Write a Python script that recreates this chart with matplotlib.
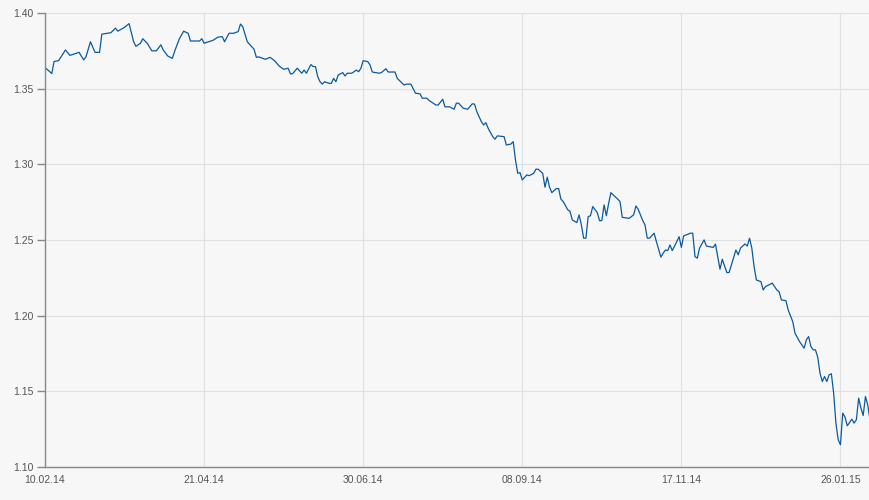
import matplotlib
matplotlib.use("Agg")
import matplotlib.pyplot as plt
import matplotlib.dates as mdates
import numpy as np
import pandas as pd

# EUR/USD style daily series
start = pd.Timestamp("2014-02-10")
days = [0, 3, 4, 6, 9, 11, 15, 17, 18, 20, 22, 24, 25, 29, 31, 32, 35, 37, 39, 40,
        42, 43, 45, 47, 49, 51, 52, 54, 56, 57, 59, 61, 63, 64, 68, 69, 70, 74, 76, 78,
        79, 81, 83, 85, 86, 87, 89, 92, 93, 94, 97, 99, 101, 103, 105, 107, 108, 109, 111, 113,
        114, 115, 117, 118, 119, 120, 121, 122, 123, 125, 126, 127, 128, 129, 131, 132, 133, 135, 137, 138,
        139, 140, 142, 143, 144, 147, 148, 150, 151, 154, 155, 158, 159, 161, 163, 165, 166, 168, 169, 172,
        173, 175, 176, 178, 180, 181, 182, 184, 186, 188, 189, 190, 192, 193, 194, 195, 197, 198, 199, 202,
        203, 205, 206, 207, 208, 209, 210, 212, 213, 215, 216, 217, 219, 220, 221, 222, 223, 225, 226, 227,
        228, 230, 231, 232, 234, 235, 236, 237, 238, 239, 240, 241, 243, 244, 245, 246, 247, 248, 249, 250,
        252, 253, 254, 257, 259, 260, 261, 263, 264, 265, 266, 268, 269, 271, 272, 273, 274, 275, 276, 278,
        279, 280, 281, 284, 285, 286, 287, 288, 290, 291, 294, 295, 296, 297, 298, 300, 301, 304, 305, 306,
        308, 309, 310, 311, 312, 313, 315, 316, 317, 320, 322, 323, 324, 326, 327, 329, 330, 332, 334, 335,
        336, 337, 338, 339, 340, 341, 342, 343, 344, 345, 346, 347, 348, 349, 350, 351, 352, 353, 355, 356,
        357, 358, 359, 360, 361, 362, 363]
rate = [1.364, 1.360, 1.368, 1.3685, 1.3756, 1.372, 1.374, 1.369, 1.3709, 1.381, 1.374, 1.374, 1.386, 1.387, 1.390, 1.388, 1.3905, 1.393, 1.381, 1.378,
        1.380, 1.383, 1.380, 1.375, 1.375, 1.379, 1.3756, 1.3716, 1.370, 1.3745, 1.3826, 1.388, 1.3866, 1.3815, 1.3815, 1.383, 1.380, 1.382, 1.384, 1.3844,
        1.381, 1.3866, 1.3866, 1.3877, 1.3927, 1.391, 1.381, 1.376, 1.3707, 1.371, 1.3694, 1.3707, 1.3685, 1.365, 1.3628, 1.3635, 1.3597, 1.360, 1.3635, 1.3602,
        1.3623, 1.3602, 1.3659, 1.3646, 1.3646, 1.358, 1.3546, 1.353, 1.3546, 1.3535, 1.3535, 1.3568, 1.3546, 1.359, 1.3606, 1.3584, 1.3602, 1.3602, 1.3623, 1.3612,
        1.3635, 1.3685, 1.3679, 1.3657, 1.361, 1.3602, 1.3606, 1.3632, 1.361, 1.361, 1.3568, 1.3524, 1.353, 1.353, 1.347, 1.3466, 1.3437, 1.3437, 1.3422, 1.3392,
        1.3392, 1.343, 1.338, 1.338, 1.3364, 1.3404, 1.3404, 1.3371, 1.3364, 1.340, 1.3398, 1.3348, 1.3282, 1.326, 1.3275, 1.3238, 1.3183, 1.3166, 1.3188, 1.3183,
        1.3128, 1.3134, 1.315, 1.303, 1.2941, 1.2945, 1.2897, 1.293, 1.2925, 1.294, 1.2968, 1.2968, 1.294, 1.2849, 1.2915, 1.2849, 1.2813, 1.284, 1.284, 1.277,
        1.2754, 1.270, 1.2689, 1.2633, 1.2615, 1.2666, 1.260, 1.2512, 1.2512, 1.2655, 1.266, 1.2721, 1.2681, 1.2628, 1.2628, 1.2732, 1.266, 1.2742, 1.2813, 1.2798,
        1.277, 1.2754, 1.265, 1.2643, 1.2666, 1.2725, 1.2703, 1.2628, 1.260, 1.2512, 1.2512, 1.2545, 1.249, 1.2387, 1.2413, 1.2434, 1.243, 1.2467, 1.243, 1.249,
        1.2522, 1.2451, 1.2527, 1.2545, 1.2545, 1.239, 1.238, 1.2446, 1.2501, 1.246, 1.2451, 1.2473, 1.2390, 1.2307, 1.2373, 1.2285, 1.2285, 1.2434, 1.2402, 1.2446,
        1.2474, 1.246, 1.2512, 1.2446, 1.2324, 1.2236, 1.2225, 1.217, 1.2192, 1.2215, 1.217, 1.2159, 1.2104, 1.2099, 1.2038, 1.1961, 1.1884, 1.1829, 1.1785, 1.184,
        1.1862, 1.1796, 1.1774, 1.1774, 1.1726, 1.162, 1.1565, 1.1598, 1.1565, 1.1609, 1.1616, 1.1488, 1.129, 1.118, 1.1147, 1.1356, 1.133, 1.1272, 1.1316, 1.129,
        1.1312, 1.1455, 1.139, 1.134, 1.1466, 1.141, 1.1312]

tick_dates = ["2014-02-10", "2014-04-21", "2014-06-30", "2014-09-08", "2014-11-17", "2015-01-26"]
y_ticks = [1.10, 1.15, 1.20, 1.25, 1.30, 1.35, 1.40]

dates = start + pd.to_timedelta(days, unit="D")

bg = "#f7f7f7"
fig = plt.figure(figsize=(8.7, 5), dpi=100, facecolor=bg)
ax = fig.add_axes([45 / 870, 33 / 500, 825 / 870, 454 / 500])
ax.set_facecolor(bg)

ax.plot(dates, rate, color="#0a5aa0", linewidth=0.9)

ax.set_xlim(start, start + pd.Timedelta(days=363))
ax.set_ylim(1.10, 1.40)
ax.set_xticks(pd.to_datetime(tick_dates))
ax.xaxis.set_major_formatter(mdates.DateFormatter("%d.%m.%y"))
ax.set_yticks(y_ticks)
ax.yaxis.set_major_formatter(matplotlib.ticker.FormatStrFormatter("%.2f"))

ax.grid(True, color="#e0e0e0", linewidth=0.8)
ax.set_axisbelow(True)
for s in ["top", "right"]:
    ax.spines[s].set_visible(False)
for s in ["left", "bottom"]:
    ax.spines[s].set_color("#888888")
    ax.spines[s].set_linewidth(1.0)

ax.tick_params(axis="y", length=6, width=1, color="#888888", pad=2,
               labelsize=7.5, labelcolor="#555555")
ax.tick_params(axis="x", length=0, pad=6, labelsize=7.5, labelcolor="#555555")
for lab in ax.get_xticklabels() + ax.get_yticklabels():
    lab.set_fontfamily("Liberation Sans")

fig.savefig("out.png", dpi=100, facecolor=bg)
